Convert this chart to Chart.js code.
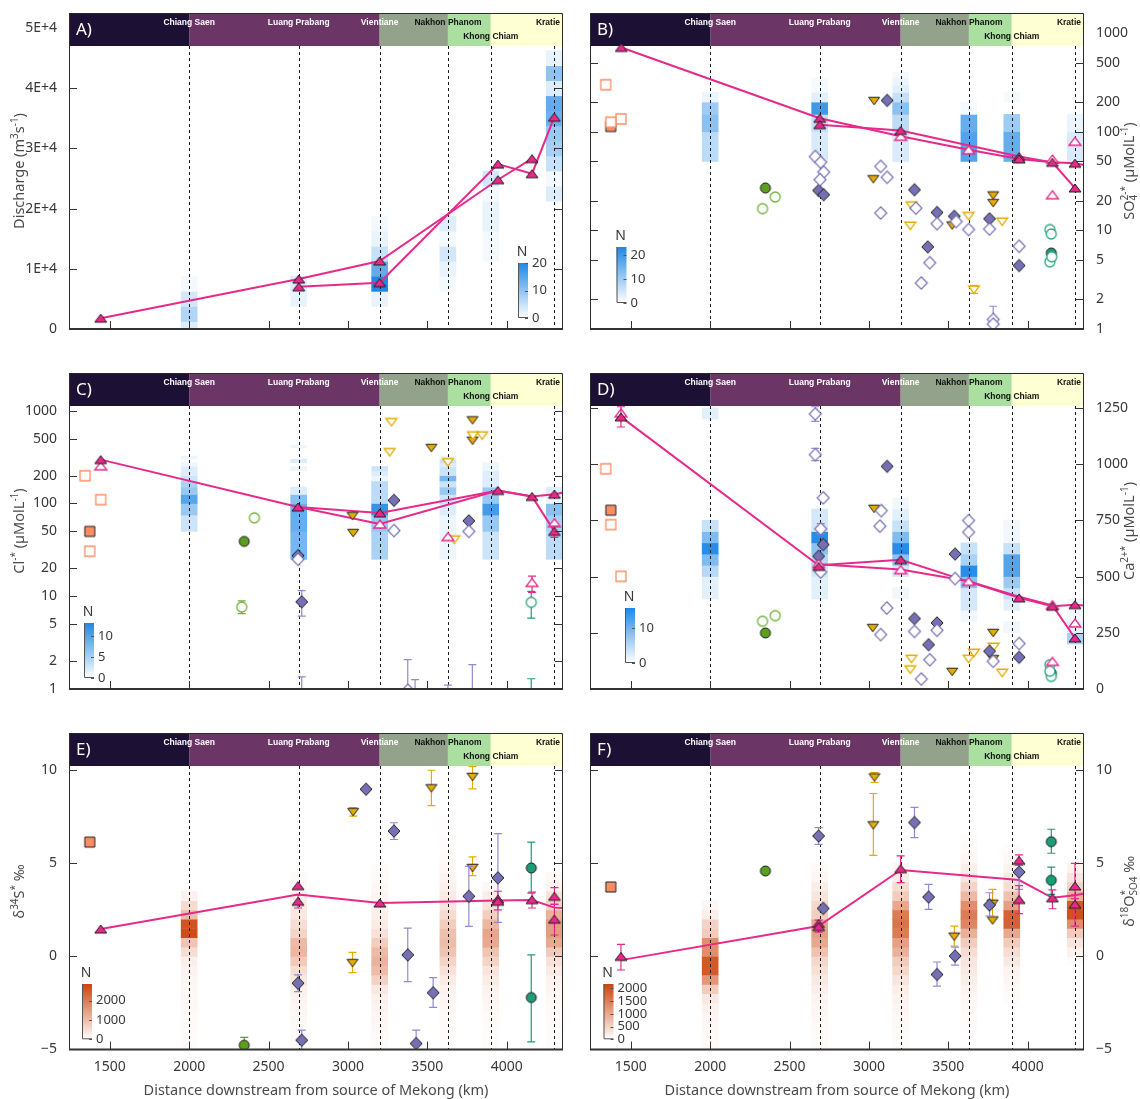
<!DOCTYPE html>
<html>
<head>
<meta charset="utf-8">
<script src="https://cdn.jsdelivr.net/npm/chart.js@4.4.1/dist/chart.umd.min.js"></script>
<style>
  html, body { margin: 0; padding: 0; background: #ffffff; }
  #page { position: relative; width: 1140px; height: 1099px; overflow: hidden; }
  canvas { position: absolute; }
</style>
</head>
<body>
<div id="page">
  <canvas id="panelA" width="570" height="360" style="left:0;top:0"></canvas>
  <canvas id="panelB" width="570" height="360" style="left:570px;top:0"></canvas>
  <canvas id="panelC" width="570" height="360" style="left:0;top:360px"></canvas>
  <canvas id="panelD" width="570" height="360" style="left:570px;top:360px"></canvas>
  <canvas id="panelE" width="570" height="379" style="left:0;top:720px"></canvas>
  <canvas id="panelF" width="570" height="379" style="left:570px;top:720px"></canvas>
</div>
<script>
// ---------- shared river geometry ----------
const kmRange = [1243, 4355];
const distTicks = [1500, 2000, 2500, 3000, 3500, 4000];
const stationKm = [2000, 2690, 3200, 3630, 3900, 4300];
const stationNames = ['Chiang Saen', 'Luang Prabang', 'Vientiane', 'Nakhon Phanom', 'Khong Chiam', 'Kratie'];
const zoneBreaks = [2000, 3200, 3630, 3900];
const zoneColors = ['#1c1034', '#6b3566', '#93a38b', '#abdf9f', '#ffffd4'];

// ---------- A) discharge ----------
const aTicks = [0, 10000, 20000, 30000, 40000, 50000];
const aHeatBins = [-1250, 2500];
const aHeat = [[3, 7, 4, 1], [0, 0, 2, 3], [0, 0, 2, 20, 14, 5, 2, 1], [0, 0, 0, 1, 2, 4, 1, 3],
  [0, 0, 0, 0, 0, 1, 1, 2, 2, 1, 4], [0, 0, 0, 0, 0, 0, 0, 0, 0, 3, 1, 5, 8, 9, 13, 14, 3, 10, 2]];
const aLine1 = [[1443, 1800], [2690, 8300], [3200, 11300], [3945, 24800], [4160, 28300]];
const aLine2 = [[2690, 7000], [3200, 7700], [3945, 27400], [4160, 25800], [4300, 35200]];
const aPinkFilled = [[1443, 1800], [2690, 8300], [2690, 7000], [3200, 11300], [3200, 7700], [3945, 27400],
  [3945, 24800], [4160, 28300], [4160, 25800], [4300, 35200]];

// ---------- B) sulfate ----------
const logTicks = [1, 2, 5, 10, 20, 50, 100, 200, 500, 1000];
const bHeatBins = [50, 50];
const bHeat = [[7, 12, 10, 2], [4, 6, 20, 3, 1, 1], [4, 7, 12, 6, 3, 2, 1], [18, 16, 1], [16, 10, 0, 1], [4, 2]];
const bLine1 = [[1440, 716], [2690, 137], [3200, 90], [3628, 65.7], [3946, 53], [4156, 49], [4298, 48], [4450, 43]];
const bLine2 = [[2690, 118], [3200, 103], [3946, 56], [4156, 49], [4298, 26.9]];
const bPinkFilled = [[1440, 716], [2690, 137], [2690, 118], [3200, 103], [3946, 56], [3946, 53], [4156, 49], [4298, 48], [4298, 26.9]];
const bPinkOpen = [[3200, 90], [3628, 65.7], [4156, 53], [4156, 23], [4298, 80]];
const bSqFilled = [[1374, 113]];
const bSqOpen = [[1342, 300], [1438, 135], [1374, 125]];
const bGreenFilled = [[2348, 26.9]];
const bGreenOpen = [[2410, 21.8], [2330, 16.6]];
const bDiaFilled = [[2683, 25.4], [2715, 23], [3115, 208], [3287, 25.8], [3429, 15.2], [3538, 13.9], [3760, 13.1], [3371, 6.8], [3946, 4.4]];
const bDiaOpen = [[2662, 56], [2696, 49], [2715, 39], [2692, 32.7], [3074, 44.5], [3115, 34.5], [3074, 15.0], [3296, 16.8],
  [3429, 11.7], [3550, 12.3], [3628, 10.2], [3760, 10.3], [3946, 6.9], [3383, 4.7], [3330, 2.93], [3783, 1.25, 0.9, 1.7], [3783, 1.12]];
const bYelFilled = [[3033, 205], [3028, 33], [3525, 11.2], [3783, 22.6], [3783, 18.9]];
const bYelOpen = [[3268, 17.8], [3261, 11.1], [3628, 13.9], [3840, 12.2], [3662, 2.5, 2.3, 2.75]];
const bTealFilled = [[4149, 5.9]];
const bTealOpen = [[4140, 10.2], [4149, 9.2], [4140, 4.8], [4152, 5.4]];

// ---------- C) chloride ----------
const cHeatBins = [25, 25];
const cHeat = [[0, 3, 6, 10, 6, 5, 3, 2, 2, 1, 0, 1], [8, 9, 9, 7, 2, 0, 0, 0, 1, 0, 2, 0, 0, 0, 0, 1],
  [5, 6, 12, 4, 4, 4, 1, 2, 3], [1, 1, 2, 3, 6, 3, 8, 3, 3, 2, 3, 1], [3, 6, 11, 6, 6, 2, 2, 2, 1, 1], [4, 5, 7, 1, 2]];
const cLine1 = [[1443, 297], [2686, 91.6], [3201, 79], [3945, 138], [4160, 119], [4301, 126], [4450, 140]];
const cLine2 = [[2686, 91.6], [3201, 60], [3945, 138], [4160, 119], [4301, 50]];
const cPinkFilled = [[1443, 297], [2686, 91.6], [3201, 79], [3945, 138], [4160, 119], [4301, 126], [4301, 50, 43, 57]];
const cPinkOpen = [[1443, 255], [3201, 60], [3630, 44], [4160, 14.1, 11, 16.5], [4301, 62]];
const cSqFilled = [[1374, 50]];
const cSqOpen = [[1344, 199], [1443, 110], [1374, 30.5]];
const cGreenFilled = [[2347, 39]];
const cGreenOpen = [[2411, 70], [2331, 7.65, 6.5, 8.9]];
const cDiaFilled = [[2686, 27.4], [2709, 8.7, 6.1, 11.5], [3290, 108], [3762, 65]];
const cDiaOpen = [[2686, 25], [3290, 51], [3762, 50], [3377, 0.97, 0.6, 2.07], [3423, 0.6, 0.4, 1.26],
  [3630, 0.5, 0.3, 1.1], [3784, 0.7, 0.4, 1.83], [2709, 0.6, 0.4, 1.35]];
const cYelFilled = [[3029, 73], [3033, 48], [3526, 396], [3785, 787], [3785, 475]];
const cYelOpen = [[3274, 749], [3263, 356], [3630, 277], [3670, 40.7], [3788, 538], [3846, 538]];
const cTealOpen = [[4155, 8.6, 5.8, 11.3], [4155, 0.5, 0.3, 1.29]];

// ---------- D) calcium ----------
const dTicks = [0, 250, 500, 750, 1000, 1250];
const dHeatBins = [0, 50];
const dHeat = [[0, 0, 0, 0, 0, 0, 0, 0, 2, 2, 5, 9, 15, 9, 4, 0, 0, 0, 0, 0, 0, 0, 0, 0, 2],
  [0, 0, 0, 0, 0, 0, 0, 0, 2, 2, 3, 5, 8, 15, 3, 3], [0, 0, 0, 0, 0, 0, 0, 0, 1, 0, 3, 8, 15, 9, 4, 2, 1],
  [0, 0, 0, 0, 0, 0, 1, 3, 3, 8, 15, 6, 4], [0, 0, 0, 0, 0, 1, 0, 2, 4, 7, 12, 12, 4, 1, 1], [0, 0, 0, 0, 6, 2, 1, 1]];
const dLine1 = [[1438, 1210], [2683, 550], [3200, 575], [3946, 405], [4156, 368], [4298, 375], [4450, 364]];
const dLine2 = [[2683, 555], [3200, 531], [3628, 479], [3946, 410], [4156, 372], [4298, 227]];
const dPinkFilled = [[1438, 1210, 1165, 1255], [2683, 545], [3200, 575], [3946, 405], [4156, 368], [4298, 375], [4298, 227]];
const dPinkOpen = [[1438, 1228], [2683, 558], [3200, 531], [3628, 479], [4156, 375], [4298, 294], [4156, 123]];
const dSqFilled = [[1374, 795]];
const dSqOpen = [[1342, 979], [1374, 731], [1438, 501]];
const dGreenFilled = [[2348, 249]];
const dGreenOpen = [[2330, 301], [2410, 326]];
const dDiaFilled = [[3115, 990], [2712, 642], [2683, 590], [3543, 600], [3287, 313], [3429, 294], [3376, 197], [3760, 168], [3946, 141]];
const dDiaOpen = [[2662, 1223, 1190, 1255], [2662, 1042, 1015, 1070], [2712, 850], [2696, 712, 690, 735], [3078, 793],
  [3069, 724], [2696, 520], [3113, 360], [3074, 242], [3287, 256], [3429, 261], [3628, 749], [3628, 697], [3543, 491],
  [3383, 130], [3330, 44], [3783, 123], [3946, 202]];
const dYelFilled = [[3033, 801], [3024, 271], [3525, 76], [3783, 249], [3783, 133]];
const dYelOpen = [[3268, 133], [3261, 86], [3628, 133], [3662, 160], [3786, 187], [3840, 71]];
const dTealFilled = [[4149, 71]];
const dTealOpen = [[4140, 108], [4149, 56], [4140, 79]];

// ---------- E) sulfur isotopes ----------
const isoTicks = [-5, 0, 5, 10];
const isoHeatBins = [-5, 0.5];
const eHeat = [[60, 60, 70, 80, 90, 100, 120, 150, 180, 250, 500, 900, 2700, 2600, 1000, 550, 180],
  [60, 70, 80, 100, 130, 170, 220, 350, 500, 800, 1100, 1050, 650, 500, 350, 300, 250, 120, 70],
  [60, 80, 100, 130, 170, 220, 350, 700, 1000, 1150, 1050, 750, 450, 300, 250, 200, 150, 100, 80, 50],
  [40, 50, 60, 80, 100, 150, 200, 300, 450, 650, 900, 1000, 950, 750, 550, 400, 320, 220, 160, 110, 80, 60, 50, 40, 30],
  [30, 40, 60, 80, 100, 150, 200, 300, 400, 650, 900, 1300, 1350, 1100, 750, 450, 280, 120],
  [40, 50, 60, 70, 80, 100, 150, 200, 300, 450, 800, 1300, 1500, 1500, 1200, 650, 420, 200, 100]];
const eLine = [[1443, 1.47], [2686, 3.32], [3201, 2.87], [3945, 3.0], [4160, 3.03], [4301, 2.62], [4450, 2.55]];
const ePinkFilled = [[1443, 1.47], [2686, 3.8], [2686, 2.96, 2.6, 3.3], [3201, 2.87], [3945, 3.08, 2.5, 3.5], [3945, 2.96],
  [4160, 3.05, 2.6, 3.45], [4301, 3.23, 2.8, 3.7], [4301, 2.0, 1.15, 2.8]];
const eSqFilled = [[1374, 6.14]];
const eGreenFilled = [[2347, -4.77, -5.2, -4.35]];
const eDiaFilled = [[3114, 8.98], [3290, 6.73, 6.28, 7.18], [2686, -1.44, -1.89, -0.99], [2709, -4.5, -5.0, -3.96],
  [3377, 0.08, -1.35, 1.52], [3537, -1.95, -2.74, -1.14], [3430, -4.68, -5.3, -3.96], [3762, 3.23, 1.61, 4.84], [3945, 4.22, 1.83, 6.6]];
const eYelFilled = [[3033, 7.75, 7.54, 7.99], [3029, -0.36, -0.87, 0.22], [3526, 9.03, 8.1, 10.0], [3785, 9.64, 9.0, 10.2], [3785, 4.75, 4.34, 5.35]];
const eTealFilled = [[4155, 4.75, 3.4, 6.14], [4155, -2.21, -4.59, 0.08]];

// ---------- F) sulfate oxygen isotopes ----------
const fHeat = [[50, 60, 80, 110, 160, 250, 600, 1200, 1900, 1900, 1300, 1300, 600, 500, 200, 100],
  [40, 50, 60, 80, 100, 130, 180, 250, 350, 450, 700, 1000, 1100, 1000, 550, 450, 300, 200, 100, 60],
  [40, 50, 70, 90, 110, 150, 200, 300, 450, 600, 900, 1100, 1500, 1600, 1500, 1000, 600, 400, 200, 100],
  [0, 20, 30, 50, 70, 100, 150, 200, 250, 300, 400, 600, 900, 1400, 1500, 1300, 800, 500, 300, 200, 100, 60, 40],
  [0, 0, 0, 0, 0, 40, 60, 100, 150, 250, 400, 600, 1000, 1800, 1800, 1100, 700, 400, 250, 150, 80, 40],
  [0, 0, 0, 0, 0, 0, 0, 0, 0, 40, 150, 300, 600, 1300, 2000, 1900, 900, 500, 300, 150]];
const fLine = [[1438, -0.2], [2683, 1.63], [3200, 4.64], [3946, 4.1], [4156, 3.15], [4298, 3.28], [4450, 3.55]];
const fPinkFilled = [[1438, 0.0, -0.73, 0.65], [2683, 1.77], [2683, 1.6, 1.3, 1.95], [3200, 4.71, 3.96, 5.4], [3946, 5.16, 4.9, 5.45],
  [3946, 3.06, 2.3, 3.8], [4156, 3.15, 2.56, 3.57], [4298, 3.78, 3.1, 5.0], [4298, 2.8, 1.63, 3.3]];
const fSqFilled = [[1374, 3.73]];
const fGreenFilled = [[2348, 4.59]];
const fDiaFilled = [[2683, 6.47, 6.02, 6.92], [2712, 2.58], [3287, 7.19, 6.38, 8.0], [3376, 3.19, 2.53, 3.87], [3429, -0.97, -1.6, -0.3],
  [3543, 0.02, -0.47, 0.5], [3760, 2.76, 2.17, 3.42], [3946, 4.53, 3.6, 5.12]];
const fYelFilled = [[3035, 9.61, 9.34, 9.87], [3028, 7.04, 5.43, 8.75], [3538, 1.06, 0.56, 1.63], [3779, 2.83, 1.99, 3.6], [3779, 1.93]];
const fTealFilled = [[4149, 6.16, 5.54, 6.83], [4149, 4.09, 3.33, 4.8]];

// ---------- styling ----------
const PINK = '#e7298a', PURPLE = '#7570b3', PURPLE_ERR = '#8f8bd0', YELLOW = '#e6ab02', SALMON = '#fc8d62',
  GREEN = '#5b9f1c', GREEN_OPEN = '#6fb33a', TEAL = '#1b9e77', EDGE = '#1e1e1e';
const BLUE_RAMP = [30, 136, 229], ORANGE_RAMP = [205, 66, 10];
const BAND_H = 33;
const TICK_FONT = { family: 'Noto Sans', size: 14 };
const TICK_COLOR = '#383838';
const TITLE_COLOR = '#4a4a4a';

function rampColor(rgb, t) {
  t = Math.max(0, Math.min(1, t));
  const c = rgb.map(v => Math.round(255 + (v - 255) * t));
  return `rgb(${c[0]},${c[1]},${c[2]})`;
}

// small canvas glyphs used as point styles
function glyph(shape, fill, stroke, lw) {
  const dims = { tri: [12, 8], tridown: [11, 7.5], sq: [10, 10], dia: [12, 12.5], circ: [10, 10] }[shape];
  const w = dims[0], h = dims[1];
  const c = document.createElement('canvas');
  c.width = 16; c.height = 16;
  const g = c.getContext('2d');
  const cx = 8, cy = 8;
  g.beginPath();
  if (shape === 'tri') { g.moveTo(cx, cy - h / 2); g.lineTo(cx + w / 2, cy + h / 2); g.lineTo(cx - w / 2, cy + h / 2); g.closePath(); }
  else if (shape === 'tridown') { g.moveTo(cx - w / 2, cy - h / 2); g.lineTo(cx + w / 2, cy - h / 2); g.lineTo(cx, cy + h / 2); g.closePath(); }
  else if (shape === 'sq') { g.rect(cx - w / 2, cy - h / 2, w, h); }
  else if (shape === 'dia') { g.moveTo(cx, cy - h / 2); g.lineTo(cx + w / 2, cy); g.lineTo(cx, cy + h / 2); g.lineTo(cx - w / 2, cy); g.closePath(); }
  else { g.arc(cx, cy, w / 2, 0, Math.PI * 2); }
  g.fillStyle = fill; g.fill();
  g.lineWidth = lw; g.strokeStyle = stroke; g.lineJoin = 'miter'; g.stroke();
  return c;
}
const G = {
  pinkFilled: glyph('tri', PINK, EDGE, 1), pinkOpen: glyph('tri', '#ffffff', PINK, 1.3),
  diaFilled: glyph('dia', PURPLE, EDGE, 1), diaOpen: glyph('dia', '#ffffff', PURPLE, 1.2),
  yelFilled: glyph('tridown', YELLOW, EDGE, 1), yelOpen: glyph('tridown', '#ffffff', YELLOW, 1.3),
  sqFilled: glyph('sq', SALMON, EDGE, 1), sqOpen: glyph('sq', '#ffffff', SALMON, 1.3),
  greenFilled: glyph('circ', GREEN, EDGE, 1), greenOpen: glyph('circ', '#ffffff', GREEN_OPEN, 1.3),
  tealFilled: glyph('circ', TEAL, EDGE, 1), tealOpen: glyph('circ', '#ffffff', '#2aa884', 1.3)
};

function pts(arr) { return arr.map(([x, y, lo, hi]) => ({ x, y, lo, hi })); }
function series(arr, style, errColor, order) {
  return { type: 'scatter', data: pts(arr), pointStyle: style, pointRadius: 6, pointHoverRadius: 6,
    errColor: errColor, order: order === undefined ? 2 : order };
}
function trend(arr) {
  return { type: 'line', data: pts(arr), borderColor: PINK, borderWidth: 2, pointRadius: 0, tension: 0, fill: false, order: 5 };
}
function heatmap(counts, bins, ramp, vmax) {
  const cells = [];
  counts.forEach((col, s) => col.forEach((n, i) => {
    if (n > 0) cells.push({ x: stationKm[s], y: [bins[0] + i * bins[1], bins[0] + (i + 1) * bins[1]], n });
  }));
  return { type: 'bar', data: cells, barThickness: 16, borderWidth: 0, order: 10,
    backgroundColor: c => (c.raw ? rampColor(ramp, c.raw.n / vmax) : 'rgba(0,0,0,0)') };
}

// decoration settings per panel (letter, colour bar, axis titles)
const decor = {
  panelA: { letter: 'A)', side: 'left', cbar: { dx: 449, gap: 11, h: 55, vmax: 20, ticks: [0, 10, 20], ramp: BLUE_RAMP },
    title: [['Discharge (m', 0], ['3', 1], ['s', 0], ['-1', 1], [')', 0]] },
  panelB: { letter: 'B)', side: 'right', cbar: { dx: 26.5, gap: 26, h: 56, vmax: 23.4, ticks: [0, 10, 20], ramp: BLUE_RAMP },
    title: [['SO', 0], ['4', -1, '2-*'], [' (µMolL', 0], ['-1', 1], [')', 0]] },
  panelC: { letter: 'C)', side: 'left', cbar: { dx: 15, gap: 11, h: 55, vmax: 13.2, ticks: [0, 5, 10], ramp: BLUE_RAMP },
    title: [['Cl', 0], ['-*', 1], [' (µMolL', 0], ['-1', 1], [')', 0]] },
  panelD: { letter: 'D)', side: 'right', cbar: { dx: 35, gap: 26, h: 55, vmax: 15.7, ticks: [0, 10], ramp: BLUE_RAMP },
    title: [['Ca', 0], ['2+*', 1], [' (µMolL', 0], ['-1', 1], [')', 0]] },
  panelE: { letter: 'E)', side: 'left', xTitle: true, cbar: { dx: 13, gap: 10.2, h: 55.3, vmax: 2865, ticks: [0, 1000, 2000], ramp: ORANGE_RAMP },
    title: [['δ', 0], ['34', 1], ['S', 0], ['*', 1], [' ‰', 0]] },
  panelF: { letter: 'F)', side: 'right', xTitle: true, cbar: { dx: 13.5, gap: 10.2, h: 55.3, vmax: 2170, ticks: [0, 500, 1000, 1500, 2000], ramp: ORANGE_RAMP },
    title: [['δ', 0], ['18', 1], ['O', 0], ['SO4', -1, '*'], [' ‰', 0]] }
};

// rich text with sub/superscripts, centred at (x, y)
function richText(ctx, segs, x, y, rot, size) {
  const big = `${size}px "Noto Sans"`, small = `${Math.round(size * 0.68)}px "Noto Sans"`;
  const widths = segs.map(s => {
    ctx.font = s[1] === 0 ? big : small;
    let w = ctx.measureText(s[0]).width;
    if (s[2]) w = Math.max(w, ctx.measureText(s[2]).width);
    return w;
  });
  const total = widths.reduce((a, b) => a + b, 0);
  ctx.save();
  ctx.translate(x, y); ctx.rotate(rot);
  ctx.textBaseline = 'middle'; ctx.textAlign = 'left'; ctx.fillStyle = TITLE_COLOR;
  let cx = -total / 2;
  segs.forEach((s, i) => {
    if (s[1] === 0) { ctx.font = big; ctx.fillText(s[0], cx, 0); }
    else {
      ctx.font = small;
      ctx.fillText(s[0], cx, s[1] > 0 ? -size * 0.36 : size * 0.3);
      if (s[2]) ctx.fillText(s[2], cx, -size * 0.36);
    }
    cx += widths[i];
  });
  ctx.restore();
}

const mekongPlugin = {
  id: 'mekong',
  beforeDatasetsDraw(chart) {
    const d = decor[chart.canvas.id];
    const { ctx, chartArea: a } = chart;
    const x = chart.scales.x;
    ctx.save();
    const edges = [a.left, ...zoneBreaks.map(v => x.getPixelForValue(v)), a.right];
    zoneColors.forEach((c, i) => { ctx.fillStyle = c; ctx.fillRect(edges[i], a.top, edges[i + 1] - edges[i], BAND_H); });
    ctx.font = 'bold 8.5px "Liberation Sans"';
    ctx.textBaseline = 'middle';
    stationNames.forEach((name, i) => {
      ctx.fillStyle = i < 3 ? '#ffffff' : '#111111';
      if (i === stationNames.length - 1) {
        ctx.textAlign = 'right';
        ctx.fillText(name, a.right - 3, a.top + 10);
      } else {
        ctx.textAlign = 'center';
        ctx.fillText(name, x.getPixelForValue(stationKm[i]), a.top + (i === 4 ? 23.5 : 10));
      }
    });
    ctx.font = '17px "Noto Sans"';
    ctx.fillStyle = '#ffffff';
    ctx.textAlign = 'left';
    ctx.fillText(d.letter, a.left + 7, a.top + 17);
    ctx.restore();
  },
  afterDatasetDraw(chart, args) {
    if (args.meta.type !== 'bar') return;
    const { ctx, chartArea: a } = chart;
    const x = chart.scales.x;
    ctx.save();
    ctx.strokeStyle = '#1a1a1a'; ctx.lineWidth = 1; ctx.setLineDash([3, 3]);
    stationKm.forEach(km => {
      const px = Math.round(x.getPixelForValue(km)) + 0.5;
      ctx.beginPath(); ctx.moveTo(px, a.top + BAND_H); ctx.lineTo(px, a.bottom); ctx.stroke();
    });
    ctx.restore();
  },
  beforeDatasetDraw(chart, args) {
    const ds = chart.data.datasets[args.index];
    if (!ds.errColor) return;
    const { ctx, chartArea: a } = chart;
    const x = chart.scales.x, y = chart.scales.y;
    ctx.save();
    ctx.beginPath(); ctx.rect(a.left, a.top, a.right - a.left, a.bottom - a.top); ctx.clip();
    ctx.strokeStyle = ds.errColor; ctx.lineWidth = 1.2;
    ds.data.forEach(p => {
      if (p.lo === undefined) return;
      const px = x.getPixelForValue(p.x), y1 = y.getPixelForValue(p.lo), y2 = y.getPixelForValue(p.hi);
      ctx.beginPath();
      ctx.moveTo(px, y1); ctx.lineTo(px, y2);
      ctx.moveTo(px - 4, y1); ctx.lineTo(px + 4, y1);
      ctx.moveTo(px - 4, y2); ctx.lineTo(px + 4, y2);
      ctx.stroke();
    });
    ctx.restore();
  },
  afterDraw(chart) {
    const d = decor[chart.canvas.id];
    const { ctx, chartArea: a } = chart;
    const x = chart.scales.x, y = chart.scales.y;
    ctx.save();
    // frame
    ctx.strokeStyle = '#2a2a2a'; ctx.lineWidth = 1;
    ctx.beginPath();
    ctx.moveTo(a.left + 0.5, a.bottom); ctx.lineTo(a.left + 0.5, a.top + 0.5);
    ctx.lineTo(a.right - 0.5, a.top + 0.5); ctx.lineTo(a.right - 0.5, a.bottom);
    ctx.stroke();
    ctx.lineWidth = 2; ctx.strokeStyle = '#333333';
    ctx.beginPath(); ctx.moveTo(a.left, a.bottom); ctx.lineTo(a.right, a.bottom); ctx.stroke();
    // inward ticks
    ctx.lineWidth = 1; ctx.strokeStyle = '#333333';
    y.ticks.forEach(t => {
      const py = Math.round(y.getPixelForValue(t.value)) + 0.5;
      if (py < a.top + BAND_H + 2 || py > a.bottom - 2) return;
      ctx.beginPath();
      ctx.moveTo(a.left, py); ctx.lineTo(a.left + 8, py);
      ctx.moveTo(a.right, py); ctx.lineTo(a.right - 8, py);
      ctx.stroke();
    });
    x.ticks.forEach(t => {
      const px = Math.round(x.getPixelForValue(t.value)) + 0.5;
      ctx.beginPath(); ctx.moveTo(px, a.bottom); ctx.lineTo(px, a.bottom - 8); ctx.stroke();
    });
    // colour bar
    const cb = d.cbar;
    const bx = a.left + cb.dx, bw = 10, bb = a.bottom - cb.gap, bt = bb - cb.h;
    const grad = ctx.createLinearGradient(0, bb, 0, bt);
    for (let i = 0; i <= 10; i++) grad.addColorStop(i / 10, rampColor(cb.ramp, i / 10));
    ctx.fillStyle = grad;
    ctx.fillRect(bx, bt, bw, cb.h);
    ctx.strokeStyle = '#555555'; ctx.lineWidth = 1;
    ctx.beginPath(); ctx.moveTo(bx + 0.5, bt); ctx.lineTo(bx + 0.5, bb - 0.5); ctx.lineTo(bx + bw, bb - 0.5); ctx.stroke();
    ctx.font = '13px "Noto Sans"'; ctx.fillStyle = TICK_COLOR; ctx.textBaseline = 'middle'; ctx.textAlign = 'left';
    cb.ticks.forEach(v => {
      const py = bb - (v / cb.vmax) * cb.h;
      ctx.beginPath(); ctx.moveTo(bx + bw, Math.round(py) + 0.5); ctx.lineTo(bx + bw - 3, Math.round(py) + 0.5); ctx.stroke();
      ctx.fillText(String(v), bx + bw + 4, py);
    });
    ctx.textAlign = 'center';
    ctx.font = '14px "Noto Sans"';
    ctx.fillText('N', bx + bw / 2 - 1, bt - 11);
    // axis titles
    if (d.side === 'left') richText(ctx, d.title, a.left - 49, (a.top + a.bottom) / 2, -Math.PI / 2, 14.5);
    else richText(ctx, d.title, a.right + 46, (a.top + a.bottom) / 2, -Math.PI / 2, 14.5);
    if (d.xTitle) {
      ctx.font = '14.5px "Noto Sans"'; ctx.fillStyle = TITLE_COLOR; ctx.textAlign = 'center'; ctx.textBaseline = 'middle';
      ctx.fillText('Distance downstream from source of Mekong (km)', (a.left + a.right) / 2, a.bottom + 41);
    }
    ctx.restore();
  }
};

function yAxis(side, type, min, max, ticks, fmt) {
  return {
    type, position: side, min, max,
    grid: { display: false }, border: { display: false },
    afterBuildTicks: s => { s.ticks = ticks.map(v => ({ value: v })); },
    ticks: { autoSkip: false, padding: 4, font: TICK_FONT, color: TICK_COLOR, callback: fmt },
    afterFit: s => { s.width = side === 'left' ? 69 : 56; }
  };
}

function makePanel(id, yScale, datasets) {
  const d = decor[id];
  const right = d.side === 'right';
  const bottomRow = !!d.xTitle;
  return new Chart(document.getElementById(id), {
    type: 'scatter',
    data: { datasets },
    options: {
      responsive: false, animation: false, devicePixelRatio: 1,
      layout: { padding: { top: 13, left: right ? 20 : 0, right: right ? 0 : 7, bottom: 0 } },
      plugins: { legend: { display: false }, tooltip: { enabled: false } },
      events: [],
      scales: {
        x: {
          type: 'linear', min: kmRange[0], max: kmRange[1], offset: false,
          grid: { display: false, offset: false }, border: { display: false },
          afterBuildTicks: s => { s.ticks = distTicks.map(v => ({ value: v })); },
          ticks: { display: bottomRow, padding: 1, font: TICK_FONT, color: TICK_COLOR, autoSkip: false, maxRotation: 0,
            callback: v => String(v) },
          afterFit: s => { s.height = bottomRow ? 49.5 : 31; }
        },
        y: yScale
      }
    },
    plugins: [mekongPlugin]
  });
}

const sciFmt = v => (v === 0 ? '0' : (v / 10000) + 'E+4');
const plainFmt = v => String(v);
const signedFmt = v => (v < 0 ? '\u2212' + (-v) : String(v));

makePanel('panelA', yAxis('left', 'linear', 0, 52500, aTicks, sciFmt), [
  heatmap(aHeat, aHeatBins, BLUE_RAMP, 20),
  trend(aLine1), trend(aLine2),
  series(aPinkFilled, G.pinkFilled, PINK, 0)
]);

makePanel('panelB', yAxis('right', 'logarithmic', 1, 1600, logTicks, plainFmt), [
  heatmap(bHeat, bHeatBins, BLUE_RAMP, 23.4),
  trend(bLine1), trend(bLine2),
  series(bSqOpen, G.sqOpen, SALMON), series(bSqFilled, G.sqFilled, SALMON),
  series(bGreenOpen, G.greenOpen, GREEN_OPEN), series(bGreenFilled, G.greenFilled, GREEN),
  series(bDiaOpen, G.diaOpen, PURPLE_ERR), series(bDiaFilled, G.diaFilled, PURPLE_ERR),
  series(bYelOpen, G.yelOpen, YELLOW), series(bYelFilled, G.yelFilled, YELLOW),
  series(bTealOpen, G.tealOpen, TEAL), series(bTealFilled, G.tealFilled, TEAL),
  series(bPinkOpen, G.pinkOpen, PINK, 1), series(bPinkFilled, G.pinkFilled, PINK, 0)
]);

makePanel('panelC', yAxis('left', 'logarithmic', 1, 2550, logTicks, plainFmt), [
  heatmap(cHeat, cHeatBins, BLUE_RAMP, 13.2),
  trend(cLine1), trend(cLine2),
  series(cSqOpen, G.sqOpen, SALMON), series(cSqFilled, G.sqFilled, SALMON),
  series(cGreenOpen, G.greenOpen, GREEN_OPEN), series(cGreenFilled, G.greenFilled, GREEN),
  series(cDiaOpen, G.diaOpen, PURPLE_ERR), series(cDiaFilled, G.diaFilled, PURPLE_ERR),
  series(cYelOpen, G.yelOpen, YELLOW), series(cYelFilled, G.yelFilled, YELLOW),
  series(cTealOpen, G.tealOpen, TEAL),
  series(cPinkOpen, G.pinkOpen, PINK, 1), series(cPinkFilled, G.pinkFilled, PINK, 0)
]);

makePanel('panelD', yAxis('right', 'linear', 0, 1405, dTicks, plainFmt), [
  heatmap(dHeat, dHeatBins, BLUE_RAMP, 15.7),
  trend(dLine1), trend(dLine2),
  series(dSqOpen, G.sqOpen, SALMON), series(dSqFilled, G.sqFilled, SALMON),
  series(dGreenOpen, G.greenOpen, GREEN_OPEN), series(dGreenFilled, G.greenFilled, GREEN),
  series(dDiaOpen, G.diaOpen, PURPLE_ERR), series(dDiaFilled, G.diaFilled, PURPLE_ERR),
  series(dYelOpen, G.yelOpen, YELLOW), series(dYelFilled, G.yelFilled, YELLOW),
  series(dTealOpen, G.tealOpen, TEAL), series(dTealFilled, G.tealFilled, TEAL),
  series(dPinkOpen, G.pinkOpen, PINK, 1), series(dPinkFilled, G.pinkFilled, PINK, 0)
]);

makePanel('panelE', yAxis('left', 'linear', -5, 12, isoTicks, signedFmt), [
  heatmap(eHeat, isoHeatBins, ORANGE_RAMP, 2865),
  trend(eLine),
  series(eSqFilled, G.sqFilled, SALMON),
  series(eGreenFilled, G.greenFilled, GREEN),
  series(eDiaFilled, G.diaFilled, PURPLE_ERR),
  series(eYelFilled, G.yelFilled, YELLOW),
  series(eTealFilled, G.tealFilled, TEAL),
  series(ePinkFilled, G.pinkFilled, PINK, 0)
]);

makePanel('panelF', yAxis('right', 'linear', -5, 12, isoTicks, signedFmt), [
  heatmap(fHeat, isoHeatBins, ORANGE_RAMP, 2170),
  trend(fLine),
  series(fSqFilled, G.sqFilled, SALMON),
  series(fGreenFilled, G.greenFilled, GREEN),
  series(fDiaFilled, G.diaFilled, PURPLE_ERR),
  series(fYelFilled, G.yelFilled, YELLOW),
  series(fTealFilled, G.tealFilled, TEAL),
  series(fPinkFilled, G.pinkFilled, PINK, 0)
]);
</script>
</body>
</html>
